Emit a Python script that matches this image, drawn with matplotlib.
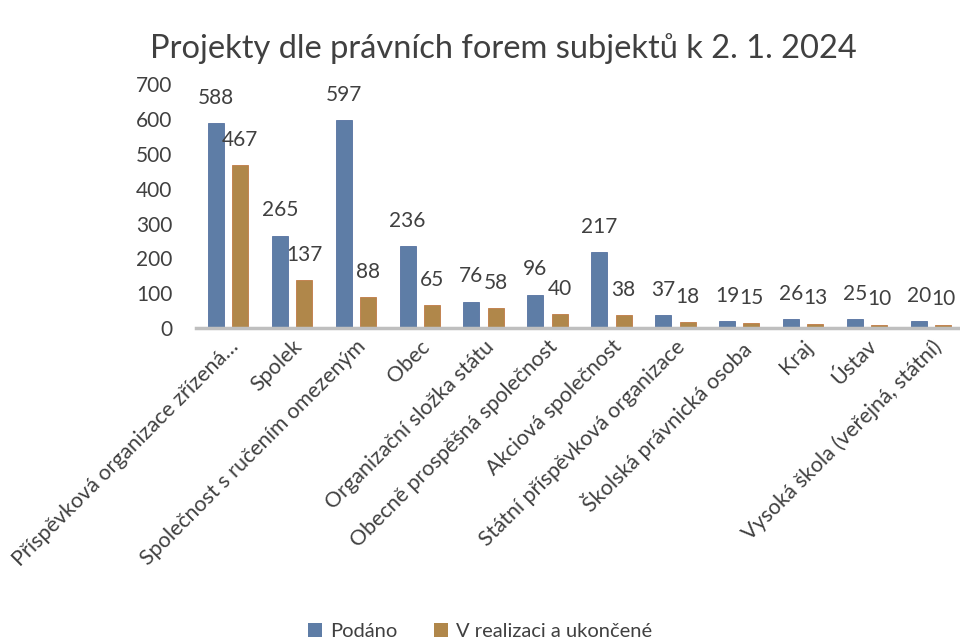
import matplotlib
matplotlib.use("Agg")
import matplotlib.pyplot as plt
import matplotlib.transforms as mtransforms
import numpy as np
from matplotlib.patches import Patch

plt.rcParams['font.family'] = ['Lato', 'DejaVu Sans']

categories = ["Příspěvková organizace zřízená…", "Spolek", "Společnost s ručením omezeným",
              "Obec", "Organizační složka státu", "Obecně prospěšná společnost",
              "Akciová společnost", "Státní příspěvková organizace", "Školská právnická osoba",
              "Kraj", "Ústav", "Vysoká škola (veřejná, státní)"]
podano = [588, 265, 597, 236, 76, 96, 217, 37, 19, 26, 25, 20]
realizace = [467, 137, 88, 65, 58, 40, 38, 18, 15, 13, 10, 10]
yticks = [0, 100, 200, 300, 400, 500, 600, 700]

blue = '#5E7DA6'
orange = '#B0874A'
textc = '#404040'

fig = plt.figure(figsize=(9.6, 6.42), dpi=100)
ax = fig.add_axes([196 / 960, 0.489, 767 / 960, 0.38])
x = np.arange(len(categories))
w = 0.25
off = 0.19
b1 = ax.bar(x - off, podano, w, color=blue, edgecolor='#5571a0', linewidth=0.6)
b2 = ax.bar(x + off, realizace, w, color=orange, edgecolor='#c07a45', linewidth=0.6)
for rects, vals in ((b1, podano), (b2, realizace)):
    for r, v in zip(rects, vals):
        ax.annotate(str(v), (r.get_x() + r.get_width() / 2, v), xytext=(0, 11),
                    textcoords='offset points', ha='center', va='bottom',
                    fontsize=15, color=textc)

ax.set_xlim(-0.5, len(categories) - 0.5)
ax.set_ylim(0, 700)
ax.set_yticks(yticks)
ax.set_yticklabels([str(t) for t in yticks], fontsize=15, color=textc)
ax.set_xticks(x)
ax.set_xticklabels(categories, rotation=45, ha='right', rotation_mode='anchor',
                   fontsize=15.5, color=textc)
shift = mtransforms.ScaledTranslation(12 / 100, 0, fig.dpi_scale_trans)
for lbl in ax.get_xticklabels():
    lbl.set_transform(lbl.get_transform() + shift)
ax.tick_params(axis='both', length=0)
ax.tick_params(axis='y', pad=17)
ax.tick_params(axis='x', pad=6)
for s in ['top', 'right', 'left']:
    ax.spines[s].set_visible(False)
ax.spines['bottom'].set_color('#bfbfbf')
ax.spines['bottom'].set_linewidth(2.5)

fig.text(0.524, 0.925, "Projekty dle právních forem subjektů k 2. 1. 2024",
         ha='center', va='center', fontsize=23.5, color='#404040')

handles = [Patch(facecolor=blue, label='Podáno'),
           Patch(facecolor=orange, label='V realizaci a ukončené')]
fig.legend(handles=handles, loc='center', bbox_to_anchor=(0.5, 0.016), ncol=2,
           frameon=False, fontsize=14.5, handlelength=0.7, handleheight=0.7,
           handletextpad=0.4, columnspacing=1.8, labelcolor=textc)

fig.savefig('out.png', dpi=100)
